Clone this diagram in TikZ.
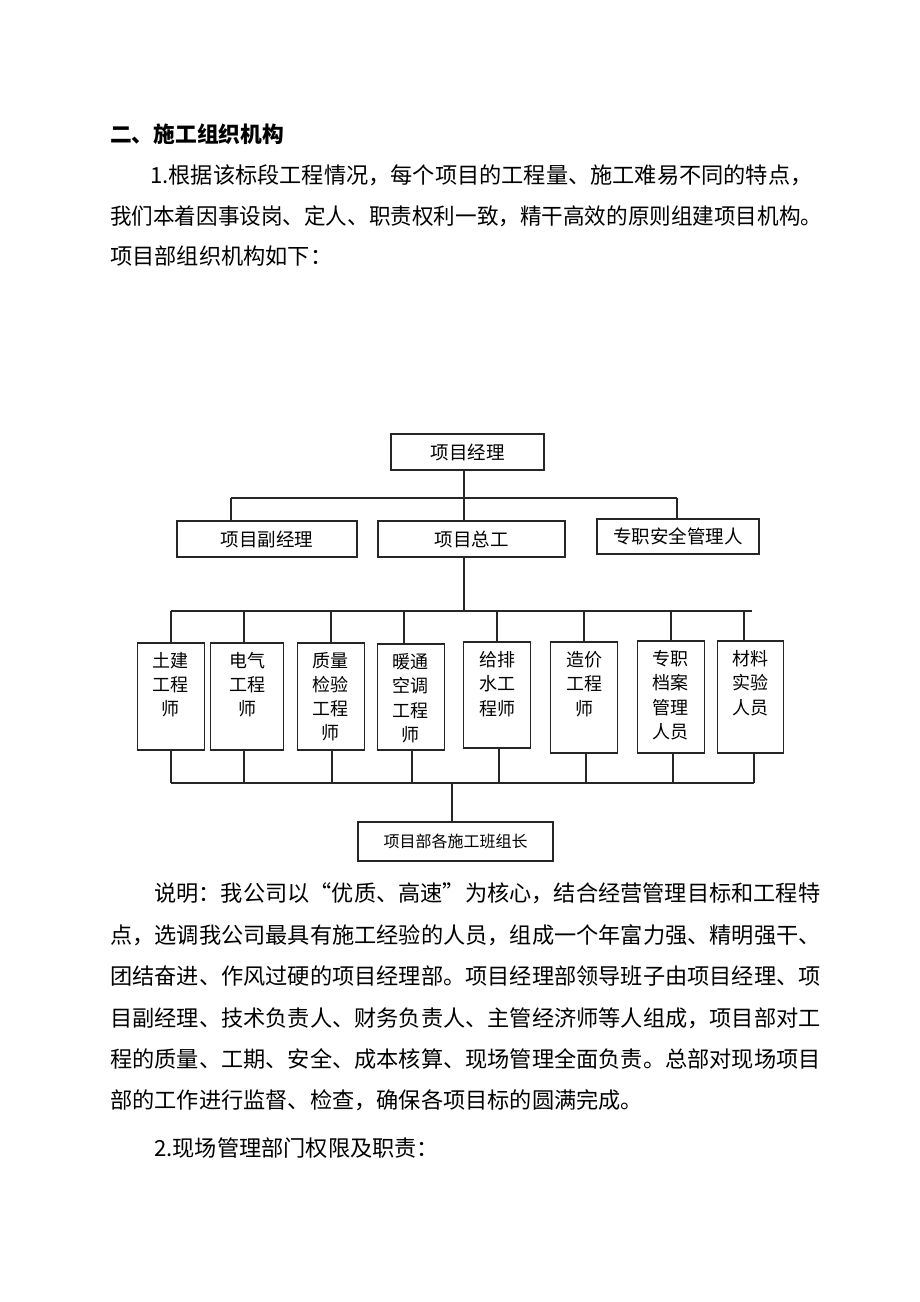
\documentclass[tikz,border=0pt]{standalone}
\usepackage{fontspec}
\usepackage{graphicx}
\newfontfamily\cjk{Noto Sans CJK SC}
\begin{document}
\begin{tikzpicture}[x=1pt,y=-1pt,
  conn/.style={draw=black!85, line width=1.2pt},
  box/.style={draw=black!85, line width=1.2pt, inner sep=0pt, font=\cjk\fontsize{18.5}{24}\selectfont},
  tall/.style={draw=black!85, line width=1.2pt, inner sep=0pt},
  lbl/.style={anchor=north, align=center, inner sep=0pt, font=\cjk\fontsize{18}{24.2}\selectfont},
  body/.style={anchor=west, inner sep=0pt, font=\cjk\fontsize{22.2}{30}\selectfont},
  head/.style={anchor=west, inner sep=0pt, font=\cjk\bfseries\fontsize{21.7}{26}\selectfont}]
\useasboundingbox (0,0) rectangle (920,1302);
\fill[white] (0,0) rectangle (920,1302);

% --- text above ---
\node[head] (h0) at (110,134) {二、施工组织机构};
\node[body] (t1) at (150,175) {1.根据该标段工程情况，每个项目的工程量、施工难易不同的特点，};
\node[body] (t2) at (110,216) {\scalebox{0.972}[1]{我们本着因事设岗、定人、职责权利一致，精干高效的原则组建项目机构。}};
\node[body] (t3) at (110,256) {项目部组织机构如下：};

% --- chart: level 1 & 2 ---
\node[box, minimum width=153, minimum height=36] (pm) at (467.5,452) {项目经理};
\node[box, minimum width=180, minimum height=36] (dep) at (267,539) {项目副经理};
\node[box, minimum width=187, minimum height=36] (chief) at (471.5,539) {项目总工};
\node[box, minimum width=162, minimum height=35] (safe) at (678,536.5) {专职安全管理人};

\coordinate (b1l) at (231,498);
\coordinate (b1m) at (464,498);
\coordinate (b1r) at (677,498);
\draw[conn] (pm.south -| b1m) -- (b1m);
\draw[conn] (b1l) -- (b1r);
\draw[conn] (b1l) -- (dep.north -| b1l);
\draw[conn] (b1r) -- (safe.north -| b1r);
\draw[conn] (b1m) -- (chief.north -| b1m);

\coordinate (b2l) at (171,611);
\coordinate (b2m) at (464,611);
\coordinate (b2r) at (752,611);
\draw[conn] (chief.south -| b2m) -- (b2m);
\draw[conn] (b2l) -- (b2r);

% --- level 3 ---
\node[tall, minimum width=67, minimum height=107] (e1) at (170.7,696.5) {};
\node[tall, minimum width=73, minimum height=107] (e2) at (247.3,696.5) {};
\node[tall, minimum width=67, minimum height=107] (e3) at (330.7,696.5) {};
\node[tall, minimum width=67, minimum height=106] (e4) at (410.7,697) {};
\node[tall, minimum width=67, minimum height=106] (e5) at (497.3,695) {};
\node[tall, minimum width=67, minimum height=111] (e6) at (584,697.5) {};
\node[tall, minimum width=67, minimum height=112] (e7) at (670.7,697) {};
\node[tall, minimum width=66, minimum height=112] (e8) at (750.3,697) {};

\node[lbl] (l1) at ([yshift=-9.5pt]e1.north) {土建\\工程\\师};
\node[lbl] (l2) at ([yshift=-9.5pt]e2.north) {电气\\工程\\师};
\node[lbl] (l3) at ([yshift=-9.5pt]e3.north) {质量\\检验\\工程\\师};
\node[lbl] (l4) at ([yshift=-10pt]e4.north) {暖通\\空调\\工程\\师};
\node[lbl] (l5) at ([yshift=-10pt]e5.north) {给排\\水工\\程师};
\node[lbl] (l6) at ([yshift=-10pt]e6.north) {造价\\工程\\师};
\node[lbl] (l7) at ([yshift=-10pt]e7.north) {专职\\档案\\管理\\人员};
\node[lbl] (l8) at ([yshift=-10pt]e8.north) {材料\\实验\\人员};

\foreach \i/\xt/\xb in {1/171/171, 2/244/244, 3/331/332, 4/404/412, 5/497/499, 6/584/586, 7/671/673, 8/744/754} {
  \coordinate (t\i) at (\xt,611);
  \coordinate (u\i) at (\xb,783);
  \draw[conn] (t\i) -- (e\i.north -| t\i);
  \draw[conn] (e\i.south -| u\i) -- (u\i);
}

\coordinate (b3l) at (171,783);
\coordinate (b3m) at (452,783);
\coordinate (b3r) at (754,783);
\draw[conn] (b3l) -- (b3r);
\node[box, minimum width=195, minimum height=39, font=\cjk\fontsize{16}{20}\selectfont] (team) at (455.5,841.5) {项目部各施工班组长};
\draw[conn] (b3m) -- (team.north -| b3m);

% --- text below ---
\node[body] (p1) at (154,893) {说明：我公司以“优质、高速”为核心，结合经营管理目标和工程特};
\node[body] (p2) at (110,935) {点，选调我公司最具有施工经验的人员，组成一个年富力强、精明强干、};
\node[body] (p3) at (110,976) {团结奋进、作风过硬的项目经理部。项目经理部领导班子由项目经理、项};
\node[body] (p4) at (110,1018) {目副经理、技术负责人、财务负责人、主管经济师等人组成，项目部对工};
\node[body] (p5) at (110,1059) {程的质量、工期、安全、成本核算、现场管理全面负责。总部对现场项目};
\node[body] (p6) at (110,1100) {部的工作进行监督、检查，确保各项目标的圆满完成。};
\node[body] (p7) at (154,1148) {2.现场管理部门权限及职责：};
\end{tikzpicture}
\end{document}
